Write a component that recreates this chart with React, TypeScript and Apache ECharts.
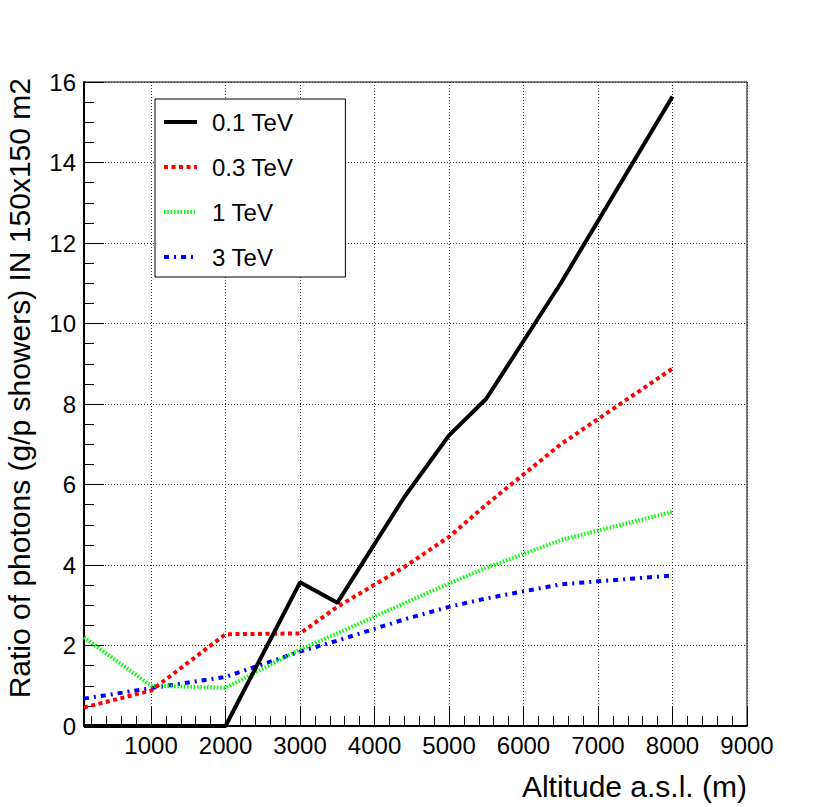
import React, { useEffect, useRef } from "react";
import * as echarts from "echarts";

const altitudes = [100, 1000, 2000, 3000, 3500, 4400, 5000, 5500, 6500, 8000];
const ratio01TeV = [0, 0, 0, 3.57, 3.06, 5.69, 7.22, 8.13, 11.0, 15.64];
const ratio03TeV = [0.46, 0.88, 2.28, 2.3, 2.96, 3.95, 4.7, 5.5, 7.0, 8.88];
const ratio1TeV = [2.2, 1.0, 0.95, 1.9, 2.3, 3.05, 3.54, 3.93, 4.62, 5.32];
const ratio3TeV = [0.68, 0.94, 1.22, 1.85, 2.12, 2.65, 2.96, 3.17, 3.52, 3.74];
const seriesNames = ["0.1 TeV", "0.3 TeV", "1 TeV", "3 TeV"];
const xTitle = "Altitude a.s.l. (m)";
const yTitle = "Ratio of photons (g/p showers) IN 150x150 m2";

const FONT = "'Liberation Sans', Arial, Helvetica, sans-serif";

const pairs = (ys: number[]) => altitudes.map((x, i) => [x, ys[i]]);

export default function App() {
  const ref = useRef<HTMLDivElement>(null);
  useEffect(() => {
    if (!ref.current) return;
    const chart = echarts.init(ref.current, undefined, { renderer: "svg" });
    const gridLine = { show: true, lineStyle: { color: "#333", width: 1, type: [1, 2] } };
    chart.setOption({
      animation: false,
      backgroundColor: "#fff",
      textStyle: { fontFamily: FONT },
      grid: {
        left: 84,
        right: 83,
        top: 82,
        bottom: 81,
        show: true,
        borderColor: "#000",
        borderWidth: 1,
        backgroundColor: "transparent",
      },
      xAxis: {
        type: "value",
        min: 100,
        max: 9000,
        splitNumber: 9,
        axisLine: { show: true, onZero: false, lineStyle: { color: "#000", width: 2 } },
        axisTick: { show: true, inside: true, length: 20, lineStyle: { color: "#000", width: 1 } },
        minorTick: { show: true, splitNumber: 5, length: 10, lineStyle: { color: "#000", width: 1 } },
        axisLabel: {
          show: true,
          showMinLabel: false,
          showMaxLabel: true,
          margin: 7,
          color: "#000",
          fontSize: 24,
          fontFamily: FONT,
          formatter: (v: number) => String(v),
        },
        splitLine: gridLine,
      },
      yAxis: {
        type: "value",
        min: 0,
        max: 16,
        interval: 2,
        axisLine: { show: true, onZero: false, lineStyle: { color: "#000", width: 2 } },
        axisTick: { show: true, inside: true, length: 20, lineStyle: { color: "#000", width: 1 } },
        minorTick: { show: true, splitNumber: 4, length: 10, lineStyle: { color: "#000", width: 1 } },
        axisLabel: { show: true, margin: 8, color: "#000", fontSize: 24, fontFamily: FONT },
        splitLine: gridLine,
      },
      legend: {
        show: true,
        orient: "vertical",
        left: 155,
        top: 99,
        data: seriesNames,
        backgroundColor: "#fff",
        borderColor: "#000",
        borderWidth: 1,
        borderRadius: 0,
        padding: [11, 52, 8, 7],
        itemWidth: 33,
        itemHeight: 24,
        itemGap: 21,
        selectedMode: false,
        itemStyle: { opacity: 0, borderWidth: 0 },
        lineStyle: { width: 4 },
        textStyle: { fontSize: 24, color: "#000", fontFamily: FONT, padding: [0, 0, 0, 10], lineHeight: 24 },
      },
      graphic: [
        {
          type: "text",
          x: 747,
          y: 786,
          style: {
            text: xTitle,
            font: `30px ${FONT}`,
            fill: "#000",
            textAlign: "right",
            textVerticalAlign: "middle",
          },
        },
        {
          type: "text",
          x: 19,
          y: 78,
          rotation: Math.PI / 2,
          style: {
            text: yTitle,
            font: `30px ${FONT}`,
            fill: "#000",
            textAlign: "right",
            textVerticalAlign: "middle",
          },
        },
      ],
      series: [
        {
          name: "3 TeV",
          type: "line",
          data: pairs(ratio3TeV),
          symbol: "none",
          lineStyle: { color: "#0000ff", width: 4, type: [5, 5, 2, 5] },
          itemStyle: { color: "#0000ff" },
        },
        {
          name: "1 TeV",
          type: "line",
          data: pairs(ratio1TeV),
          symbol: "none",
          lineStyle: { color: "#00ff00", width: 4, type: [1.5, 1.8] },
          itemStyle: { color: "#00ff00" },
        },
        {
          name: "0.3 TeV",
          type: "line",
          data: pairs(ratio03TeV),
          symbol: "none",
          lineStyle: { color: "#ff0000", width: 4, type: [4, 3.5] },
          itemStyle: { color: "#ff0000" },
        },
        {
          name: "0.1 TeV",
          type: "line",
          data: pairs(ratio01TeV),
          symbol: "none",
          lineStyle: { color: "#000000", width: 4, type: "solid" },
          itemStyle: { color: "#000000" },
        },
      ],
    });
    return () => chart.dispose();
  }, []);
  return (
    <div
      ref={ref}
      style={{ position: "absolute", left: 0, top: 0, width: 830, height: 807, background: "#fff" }}
    />
  );
}
